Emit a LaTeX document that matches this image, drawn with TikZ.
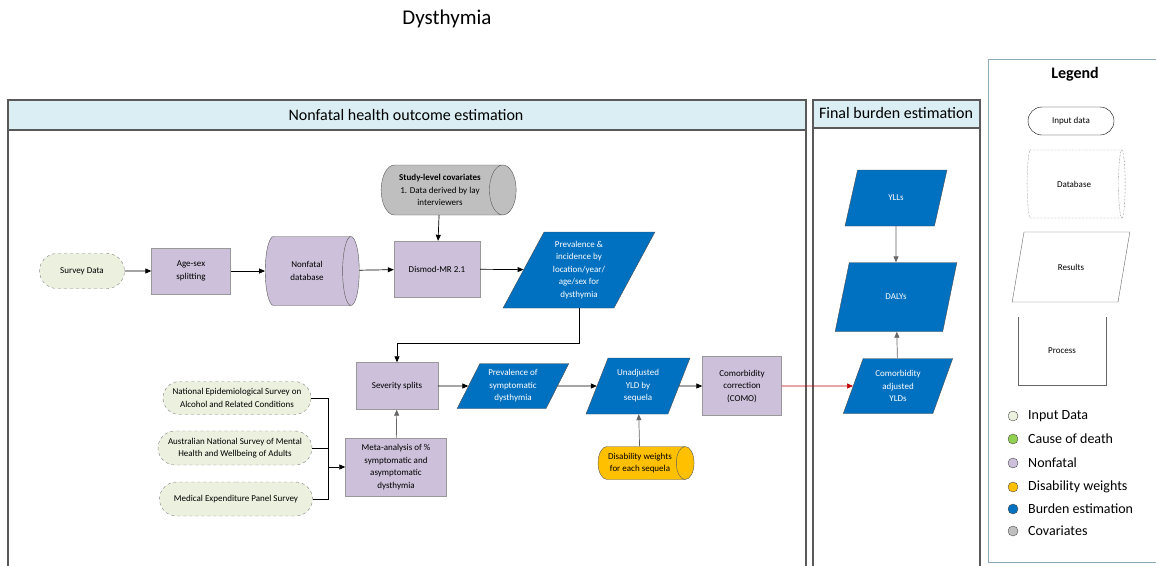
\documentclass[tikz,border=0pt]{standalone}
\usepackage{fontspec}
\setmainfont{Carlito}
\usetikzlibrary{shapes.geometric,shapes.misc,arrows.meta}
\definecolor{inputc}{HTML}{EBF1DE}
\definecolor{nonfatalc}{HTML}{CCC0DA}
\definecolor{burdenc}{HTML}{0070C0}
\definecolor{dwc}{HTML}{FFC000}
\definecolor{covc}{HTML}{BFBFBF}
\definecolor{headc}{HTML}{DAEEF3}
\definecolor{codc}{HTML}{92D050}
\definecolor{panelc}{HTML}{595959}
\definecolor{legc}{HTML}{8DA9B8}
\definecolor{redc}{HTML}{C00000}
\begin{document}
\begin{tikzpicture}[x=1pt,y=-1pt,
  every node/.style={font=\fontsize{9}{12.5}\selectfont, align=center, inner sep=1pt},
  inp/.style={rounded rectangle, fill=inputc, draw=gray, dashed},
  proc/.style={rectangle, fill=nonfatalc, draw=gray!80},
  res/.style={trapezium, trapezium stretches=true, fill=burdenc, draw=black!70, text=white},
  db/.style={cylinder, aspect=0.8, draw=gray!70!black},
  arr/.style={-{Triangle[length=6pt,width=5pt]}, line width=0.7pt},
  garr/.style={arr, draw=black!60},
  panel/.style={draw=panelc, line width=1.3pt},
  legdot/.style={circle, minimum size=10pt, inner sep=0pt, draw=black!70},
  legtxt/.style={anchor=west, font=\fontsize{14}{16}\selectfont},
]
\useasboundingbox (0,0) rectangle (1156,565);
% title
\node[font=\fontsize{21}{24}\selectfont] (title) at (447,19) {Dysthymia};
% panels
\draw[panel, fill=headc] (8,100) rectangle (806,130);
\draw[panel] (8,130) -- (8,566) (806,130) -- (806,566);
\node[font=\fontsize{16}{18}\selectfont] (h1) at (406,115) {Nonfatal health outcome estimation};
\draw[panel, fill=headc] (813,100) rectangle (980,128);
\draw[panel] (813,128) -- (813,566) (980,128) -- (980,566);
\node[font=\fontsize{16}{18}\selectfont] (h2) at (896,113) {Final burden estimation};
% legend frame
\draw[legc, line width=1pt] (1160,59) -- (988,59) -- (988,562) -- (1160,562);

% nodes
\node[inp, minimum width=87pt, minimum height=35pt] (survey) at (82,271) {Survey Data};
\node[proc, minimum width=79pt, minimum height=46pt] (age) at (191,271) {Age-sex\\splitting};
\node[db, fill=nonfatalc, minimum height=94pt, minimum width=69pt] (nfdb) at (307,271) {Nonfatal\\database};
\node[proc, minimum width=86pt, minimum height=56pt] (dismod) at (437,269) {Dismod-MR 2.1};
\node[db, fill=covc, minimum height=135pt, minimum width=50pt] (cov) at (440,190) {\textbf{Study-level covariates}\\1. Data derived by lay\\interviewers};
\node[res, trapezium left angle=62, trapezium right angle=118, minimum width=152pt, minimum height=76pt] (prev) at (579,270) {Prevalence \&\\incidence by\\location/year/\\age/sex for\\dysthymia};

\node[proc, minimum width=82pt, minimum height=47pt] (sev) at (397,386) {Severity splits};
\node[proc, minimum width=101pt, minimum height=58pt] (meta) at (396,467) {Meta-analysis of \%\\symptomatic and\\asymptomatic\\dysthymia};

\node[inp, minimum width=150pt, minimum height=33pt] (nesarc) at (237,398) {National Epidemiological Survey on\\Alcohol and Related Conditions};
\node[inp, minimum width=156pt, minimum height=34pt] (aus) at (235,448) {Australian National Survey of Mental\\Health and Wellbeing of Adults};
\node[inp, minimum width=155pt, minimum height=34pt] (meps) at (236,499) {Medical Expenditure Panel Survey};

\node[res, trapezium left angle=63, trapezium right angle=117, minimum width=112pt, minimum height=45pt] (psym) at (513,386) {Prevalence of\\symptomatic\\dysthymia};
\node[res, trapezium left angle=65, trapezium right angle=115, minimum width=104pt, minimum height=56pt] (unadj) at (638,386) {Unadjusted\\YLD by\\sequela};
\node[proc, minimum width=79pt, minimum height=59pt] (como) at (742,386) {Comorbidity\\correction\\(COMO)};
\node[db, fill=dwc, minimum height=96pt, minimum width=33pt] (dw) at (640,463) {Disability weights\\for each sequela};

\node[res, trapezium left angle=70, trapezium right angle=110, minimum width=102pt, minimum height=56pt] (yll) at (896,198) {YLLs};
\node[res, trapezium left angle=66, trapezium right angle=114, minimum width=122pt, minimum height=69pt] (daly) at (896,297) {DALYs};
\node[res, trapezium left angle=68, trapezium right angle=112, minimum width=110pt, minimum height=55pt] (cyld) at (898,386) {Comorbidity\\adjusted\\YLDs};

% connectors
\draw[arr] (survey) -- (age);
\draw[arr] (age) -- (nfdb);
\draw[arr] (nfdb) -- (dismod);
\draw[arr] (cov) -- (dismod);
\draw[arr] (dismod) -- (prev);
\draw[arr] (prev.south) -- ++(0,35) -| (sev.north);
\draw[garr] (meta) -- (sev);
\coordinate (jx) at (328,467);
\draw[line width=0.7pt] (nesarc.east) -- (nesarc.east -| jx) -- (meps.east -| jx) -- (meps.east);
\draw[line width=0.7pt] (aus.east) -- (aus.east -| jx);
\draw[arr] (jx) -- (meta.west);
\draw[arr] (sev) -- (psym);
\draw[arr] (psym) -- (unadj);
\draw[arr] (unadj) -- (como);
\draw[garr] (dw) -- (unadj);
\draw[arr, draw=redc] (como) -- (cyld);
\draw[garr] (yll) -- (daly);
\draw[garr] (cyld) -- (daly);

% legend
\node[font=\bfseries\fontsize{16}{18}\selectfont] (legt) at (1075,74) {Legend};
\node[rounded rectangle, draw=black, minimum width=88pt, minimum height=28pt] (lin) at (1071,121) {Input data};
\node[cylinder, aspect=0.8, draw=black!70, densely dotted, minimum height=98pt, minimum width=68pt] (ldb) at (1074,184) {Database};
\node[trapezium, trapezium stretches=true, trapezium left angle=67, trapezium right angle=113, draw=black!60, minimum width=118pt, minimum height=70pt] (lres) at (1071,267) {Results};
\node[minimum width=88pt, minimum height=68pt] (lproc) at (1062,351) {Process};
\draw[black!60] (lproc.north west) -- (lproc.south west) -- (lproc.south east) -- (lproc.north east);

\node[legdot, fill=inputc] (d1) at (1013,416) {};
\node[legtxt] (t1) at (1027,416) {Input Data};
\node[legdot, fill=codc] (d2) at (1013,439) {};
\node[legtxt] (t2) at (1027,439) {Cause of death};
\node[legdot, fill=nonfatalc] (d3) at (1013,463) {};
\node[legtxt] (t3) at (1027,463) {Nonfatal};
\node[legdot, fill=dwc] (d4) at (1013,487) {};
\node[legtxt] (t4) at (1027,487) {Disability weights};
\node[legdot, fill=burdenc] (d5) at (1013,509) {};
\node[legtxt] (t5) at (1027,509) {Burden estimation};
\node[legdot, fill=covc] (d6) at (1013,531) {};
\node[legtxt] (t6) at (1027,531) {Covariates};
\end{tikzpicture}
\end{document}
